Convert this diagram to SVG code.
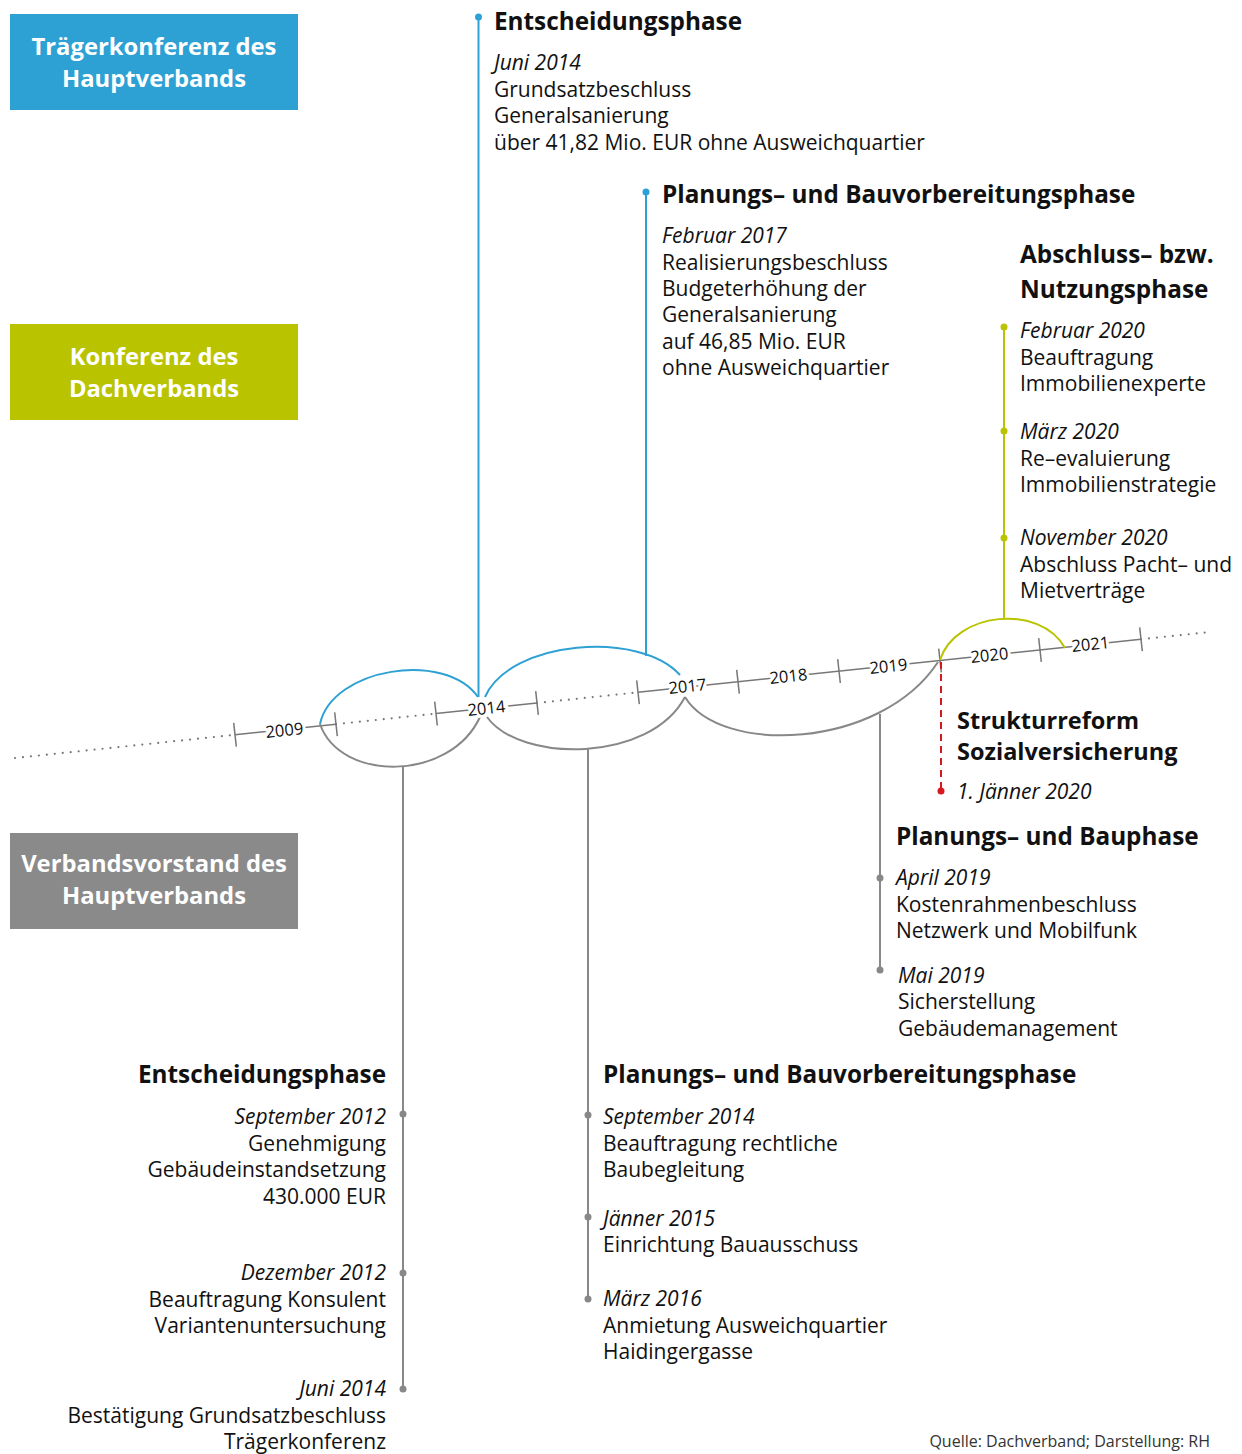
<svg xmlns="http://www.w3.org/2000/svg" width="1242" height="1454" viewBox="0 0 1242 1454">
<style>
text{font-family:"Open Sans","Noto Sans",sans-serif;fill:#111}
.b{font-size:21px}
.i{font-size:21px;font-style:italic}
.h{font-size:24.3px;font-weight:bold}
.box{font-size:23.8px;font-weight:bold;fill:#fff;text-anchor:middle}
.yr{font-size:16.5px;fill:#111;stroke:#fff;stroke-width:6;paint-order:stroke;text-anchor:middle}
.ax{stroke:#777;stroke-width:1.5;fill:none}
.dot{stroke:#777;stroke-width:2.2;stroke-dasharray:0 8;stroke-linecap:round;fill:none}
.tk{stroke:#777;stroke-width:1.5}
.bl{stroke:#2ea1d4;stroke-width:2;fill:none}
.gr{stroke:#b9c300;stroke-width:2;fill:none}
.gy{stroke:#888;stroke-width:2;fill:none}
.end{text-anchor:end}
</style>
<g id="box-traeger"><rect x="10" y="14" width="288" height="96" fill="#2ea1d4"/><text class="box" x="154" y="55">Trägerkonferenz des</text><text class="box" x="154" y="87">Hauptverbands</text></g>
<g id="box-dach"><rect x="10" y="324" width="288" height="96" fill="#b9c300"/><text class="box" x="154" y="365">Konferenz des</text><text class="box" x="154" y="397">Dachverbands</text></g>
<g id="box-vorstand"><rect x="10" y="833" width="288" height="96" fill="#8a8a8a"/><text class="box" x="154" y="872">Verbandsvorstand des</text><text class="box" x="154" y="904">Hauptverbands</text></g>

<g id="connectors">
<path class="dot" d="M15,758 L235,734.8"/>
<path class="ax" d="M235,734.8 L336,724.2"/>
<path class="dot" d="M336,724.2 L436,713.6"/>
<path class="ax" d="M436,713.6 L537,703"/>
<path class="dot" d="M537,703 L638,692.3"/>
<path class="ax" d="M638,692.3 L1141,639.3"/>
<path class="dot" d="M1141,639.3 L1210,632"/>
<g class="tk">
<line x1="233.7" y1="722.9" x2="236.3" y2="746.7"/>
<line x1="334.7" y1="712.3" x2="337.3" y2="736.1"/>
<line x1="434.7" y1="701.7" x2="437.3" y2="725.5"/>
<line x1="535.7" y1="691.1" x2="538.3" y2="714.9"/>
<line x1="636.7" y1="680.4" x2="639.3" y2="704.2"/>
<line x1="736.7" y1="669.9" x2="739.3" y2="693.7"/>
<line x1="837.7" y1="659.2" x2="840.3" y2="683"/>
<line x1="938.7" y1="648.6" x2="941.3" y2="672.4"/>
<line x1="1038.7" y1="638.1" x2="1041.3" y2="661.9"/>
<line x1="1139.7" y1="627.4" x2="1142.3" y2="651.2"/>
</g>
<path class="bl" d="M320,724 C332,668 445,650 478,697"/>
<path class="gy" d="M320,724 C340,782 450,782 480,717"/>
<path class="bl" d="M485,697 C510,640 640,630 680,675"/>
<path class="gy" d="M487,717 C520,763 650,763 685,697"/>
<path class="gy" d="M685,697 C720,755 880,750 938,662"/>
<path class="gr" d="M940,660 C955,612 1040,603 1065,648"/>
<line class="bl" x1="478.5" y1="17" x2="478.5" y2="697"/>
<line class="bl" x1="646" y1="192" x2="646" y2="656"/>
<line class="gr" x1="1004" y1="327" x2="1004" y2="618"/>
<line class="gy" x1="403" y1="767" x2="403" y2="1389"/>
<line class="gy" x1="588" y1="749" x2="588" y2="1299"/>
<line class="gy" x1="880" y1="714" x2="880" y2="970"/>
<line x1="941" y1="662" x2="941" y2="791" stroke="#d7191f" stroke-width="2" stroke-dasharray="7 5"/>
<g fill="#2ea1d4"><circle cx="478.5" cy="17" r="3.5"/><circle cx="646" cy="192" r="3.5"/></g>
<g fill="#b9c300"><circle cx="1004" cy="327" r="3.5"/><circle cx="1004" cy="431" r="3.5"/><circle cx="1004" cy="538" r="3.5"/></g>
<g fill="#888"><circle cx="403" cy="1114" r="3.5"/><circle cx="403" cy="1273" r="3.5"/><circle cx="403" cy="1389" r="3.5"/><circle cx="588" cy="1115" r="3.5"/><circle cx="588" cy="1217" r="3.5"/><circle cx="588" cy="1299" r="3.5"/><circle cx="880" cy="878" r="3.5"/><circle cx="880" cy="970" r="3.5"/></g>
<circle cx="941" cy="791" r="3.5" fill="#d7191f"/>
</g>

<g id="years">
<text class="yr" transform="translate(285,736) rotate(-6)">2009</text>
<text class="yr" transform="translate(487,714) rotate(-6)">2014</text>
<text class="yr" transform="translate(688,692) rotate(-6)">2017</text>
<text class="yr" transform="translate(789,682) rotate(-6)">2018</text>
<text class="yr" transform="translate(889,672) rotate(-6)">2019</text>
<text class="yr" transform="translate(990,661) rotate(-6)">2020</text>
<text class="yr" transform="translate(1091,650) rotate(-6)">2021</text>
</g>

<g id="top-entscheidung">
<text class="h" x="494" y="30">Entscheidungsphase</text>
<text class="i" x="494" y="70">Juni 2014</text>
<text class="b" x="494" y="97">Grundsatzbeschluss</text>
<text class="b" x="494" y="123">Generalsanierung</text>
<text class="b" x="494" y="150">über 41,82 Mio. EUR ohne Ausweichquartier</text>
</g>
<g id="top-planung">
<text class="h" x="662" y="203">Planungs– und Bauvorbereitungsphase</text>
<text class="i" x="662" y="243">Februar 2017</text>
<text class="b" x="662" y="270">Realisierungsbeschluss</text>
<text class="b" x="662" y="296">Budgeterhöhung der</text>
<text class="b" x="662" y="322">Generalsanierung</text>
<text class="b" x="662" y="349">auf 46,85 Mio. EUR</text>
<text class="b" x="662" y="375">ohne Ausweichquartier</text>
</g>
<g id="abschluss">
<text class="h" x="1020" y="263">Abschluss– bzw.</text>
<text class="h" x="1020" y="298">Nutzungsphase</text>
<text class="i" x="1020" y="338">Februar 2020</text>
<text class="b" x="1020" y="365">Beauftragung</text>
<text class="b" x="1020" y="391">Immobilienexperte</text>
<text class="i" x="1020" y="439">März 2020</text>
<text class="b" x="1020" y="466">Re–evaluierung</text>
<text class="b" x="1020" y="492">Immobilienstrategie</text>
<text class="i" x="1020" y="545">November 2020</text>
<text class="b" x="1020" y="572">Abschluss Pacht– und</text>
<text class="b" x="1020" y="598">Mietverträge</text>
</g>
<g id="strukturreform">
<text class="h" x="957" y="729" style="font-size:23.5px">Strukturreform</text>
<text class="h" x="957" y="760" style="font-size:23.5px">Sozialversicherung</text>
<text class="i" x="957" y="799">1. Jänner 2020</text>
</g>
<g id="bauphase">
<text class="h" x="896" y="845">Planungs– und Bauphase</text>
<text class="i" x="896" y="885">April 2019</text>
<text class="b" x="896" y="912">Kostenrahmenbeschluss</text>
<text class="b" x="896" y="938">Netzwerk und Mobilfunk</text>
<text class="i" x="898" y="983">Mai 2019</text>
<text class="b" x="898" y="1009">Sicherstellung</text>
<text class="b" x="898" y="1036">Gebäudemanagement</text>
</g>
<g id="bottom-entscheidung" class="end">
<text class="h end" x="386" y="1083">Entscheidungsphase</text>
<text class="i end" x="386" y="1124">September 2012</text>
<text class="b end" x="386" y="1151">Genehmigung</text>
<text class="b end" x="386" y="1177">Gebäudeinstandsetzung</text>
<text class="b end" x="386" y="1204">430.000 EUR</text>
<text class="i end" x="386" y="1280">Dezember 2012</text>
<text class="b end" x="386" y="1307">Beauftragung Konsulent</text>
<text class="b end" x="386" y="1333">Variantenuntersuchung</text>
<text class="i end" x="386" y="1396">Juni 2014</text>
<text class="b end" x="386" y="1423">Bestätigung Grundsatzbeschluss</text>
<text class="b end" x="386" y="1449">Trägerkonferenz</text>
</g>
<g id="bottom-planung">
<text class="h" x="603" y="1083">Planungs– und Bauvorbereitungsphase</text>
<text class="i" x="603" y="1124">September 2014</text>
<text class="b" x="603" y="1151">Beauftragung rechtliche</text>
<text class="b" x="603" y="1177">Baubegleitung</text>
<text class="i" x="603" y="1226">Jänner 2015</text>
<text class="b" x="603" y="1252">Einrichtung Bauausschuss</text>
<text class="i" x="603" y="1306">März 2016</text>
<text class="b" x="603" y="1333">Anmietung Ausweichquartier</text>
<text class="b" x="603" y="1359">Haidingergasse</text>
</g>
<text x="1210" y="1447" text-anchor="end" font-size="16" style="fill:#333">Quelle: Dachverband; Darstellung: RH</text>
</svg>
